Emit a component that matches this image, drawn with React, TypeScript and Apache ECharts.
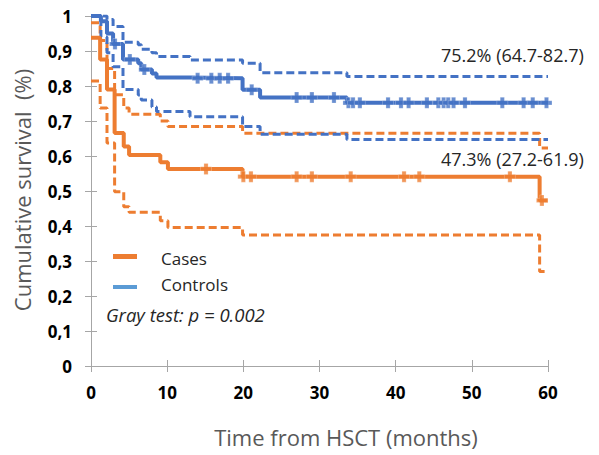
import React, { useEffect, useRef } from "react";
import * as echarts from "echarts";

// ---- Data ----
const xTicks = [0, 10, 20, 30, 40, 50, 60];
const yTickLabels = ["0", "0,1", "0,2", "0,3", "0,4", "0,5", "0,6", "0,7", "0,8", "0,9", "1"];

const casesTimes = [0, 1.2, 2.1, 3.1, 4.3, 5.0, 9.1, 10.1, 19.9, 58.9, 60];
const casesSurv = [0.938, 0.876, 0.79, 0.666, 0.627, 0.603, 0.582, 0.563, 0.541, 0.473, 0.473];
const casesUpper = [0.981, 0.93, 0.85, 0.775, 0.737, 0.719, 0.7, 0.684, 0.665, 0.623, 0.623];
const casesLower = [0.814, 0.737, 0.637, 0.498, 0.455, 0.439, 0.415, 0.396, 0.374, 0.27, 0.27];
const casesCensor = [15.1, 20.0, 21.0, 27.0, 29.0, 34.1, 41.1, 43.1, 55.0, 59.2];

const ctrlTimes = [0, 1.3, 2.1, 2.9, 4.2, 6.2, 6.6, 8.0, 8.6, 13.0, 19.9, 22.2, 33.6, 60];
const ctrlSurv = [1.0, 0.985, 0.95, 0.92, 0.876, 0.865, 0.847, 0.836, 0.824, 0.822, 0.789, 0.767, 0.752, 0.752];
const ctrlUpper = [1.0, 1.0, 0.99, 0.97, 0.925, 0.918, 0.905, 0.895, 0.884, 0.874, 0.865, 0.838, 0.827, 0.827];
const ctrlLower = [1.0, 0.94, 0.895, 0.855, 0.79, 0.774, 0.76, 0.74, 0.727, 0.712, 0.684, 0.662, 0.647, 0.647];
const ctrlCensor = [3.15, 5.1, 7.0, 14.0, 15.8, 16.9, 18.0, 21.1, 27.0, 29.0, 31.9, 33.8, 34.4, 35.3, 39.0, 40.7, 41.7, 44.1, 45.6, 46.3, 46.9, 47.6, 49.1, 54.0, 56.8, 58.0, 59.8];

const seriesNames = ["Cases", "Controls"];
const annotations = ["47.3% (27.2-61.9)", "75.2% (64.7-82.7)"];
const testLabel = "Gray test: p = 0.002";

const ORANGE = "#ED7D31";
const BLUE = "#4472C4";
const BLUE_LEGEND = "#5B9BD5";
const AXIS = "#A6A6A6";
const FONT = "'Open Sans', 'Noto Sans', sans-serif";
const PLUS = "path://M3.1,0h3.8v3.1h3.1v3.8h-3.1v3.1h-3.8v-3.1h-3.1v-3.8h3.1z";

const pairs = (t: number[], v: number[]) => t.map((x, i) => [x, v[i]]);
const stepAt = (t: number[], v: number[], x: number) => {
  let val = v[0];
  for (let i = 0; i < t.length; i++) if (t[i] <= x) val = v[i];
  return val;
};

export default function App() {
  const ref = useRef<HTMLDivElement>(null);
  useEffect(() => {
    if (!ref.current) return;
    const chart = echarts.init(ref.current, undefined, { renderer: "svg" });
    const solid = (name: string, t: number[], v: number[], color: string) => ({
      type: "line", name, step: "end", showSymbol: false, data: pairs(t, v),
      lineStyle: { color, width: 4 }, itemStyle: { color }, z: 3,
    });
    const dashed = (t: number[], v: number[], color: string) => ({
      type: "line", step: "end", showSymbol: false, data: pairs(t, v),
      lineStyle: { color, width: 3, type: [8, 4] }, z: 2,
    });
    const censor = (ct: number[], t: number[], v: number[], color: string) => ({
      type: "scatter", symbol: PLUS, symbolSize: 11,
      data: ct.map((x) => [x, stepAt(t, v, x)]),
      itemStyle: { color, borderColor: "rgba(255,255,255,0.6)", borderWidth: 0.5 }, z: 4,
    });
    const axisLineStyle = { color: AXIS, width: 1 };
    const option = {
      animation: false,
      grid: { left: 91, top: 16, right: 51, bottom: 89, containLabel: false },
      xAxis: [
        {
          type: "value", min: 0, max: 60, interval: 10,
          axisLine: { lineStyle: axisLineStyle },
          axisTick: { length: 6, lineStyle: axisLineStyle },
          axisLabel: { margin: 18, fontFamily: FONT, fontSize: 17, fontWeight: "bold", color: "#000",
            formatter: (v: number) => (xTicks.includes(v) ? String(v) : "") },
          splitLine: { show: false },
        },
        {
          type: "value", min: 0, max: 60, interval: 10, position: "bottom", offset: 0,
          axisLine: { show: false },
          axisTick: { inside: true, length: 6, lineStyle: axisLineStyle },
          axisLabel: { show: false }, splitLine: { show: false },
        },
      ],
      yAxis: [
        {
          type: "value", min: 0, max: 1, interval: 0.1,
          axisLine: { show: true, lineStyle: axisLineStyle },
          axisTick: { show: true, length: 6, lineStyle: axisLineStyle },
          axisLabel: { margin: 19, fontFamily: FONT, fontSize: 17, fontWeight: "bold", color: "#000",
            formatter: (v: number) => yTickLabels[Math.round(v * 10)] },
          splitLine: { show: false },
        },
        {
          type: "value", min: 0, max: 1, interval: 0.1, position: "left", offset: 0,
          axisLine: { show: false },
          axisTick: { show: true, inside: true, length: 6, lineStyle: axisLineStyle },
          axisLabel: { show: false }, splitLine: { show: false },
        },
      ],
      series: [
        dashed(casesTimes, casesUpper, ORANGE),
        dashed(casesTimes, casesLower, ORANGE),
        dashed(ctrlTimes, ctrlUpper, BLUE),
        dashed(ctrlTimes, ctrlLower, BLUE),
        solid(seriesNames[0], casesTimes, casesSurv, ORANGE),
        solid(seriesNames[1], ctrlTimes, ctrlSurv, BLUE),
        censor(casesCensor, casesTimes, casesSurv, ORANGE),
        censor(ctrlCensor, ctrlTimes, ctrlSurv, BLUE),
      ],
      graphic: [
        { type: "rect", shape: { x: 113, y: 254, width: 24, height: 5 }, style: { fill: ORANGE } },
        { type: "text", x: 161, y: 258, style: { text: seriesNames[0], font: `17px ${FONT}`, fill: "#262626", verticalAlign: "middle" } },
        { type: "rect", shape: { x: 113, y: 285, width: 24, height: 4 }, style: { fill: BLUE_LEGEND } },
        { type: "text", x: 161, y: 284, style: { text: seriesNames[1], font: `17px ${FONT}`, fill: "#262626", verticalAlign: "middle" } },
        { type: "text", x: 106, y: 314, style: { text: testLabel, font: `italic 18.5px ${FONT}`, fill: "#262626", verticalAlign: "middle" } },
        { type: "text", x: 441, y: 55, style: { text: annotations[1], font: `18px ${FONT}`, fill: "#262626", verticalAlign: "middle" } },
        { type: "text", x: 441, y: 159, style: { text: annotations[0], font: `18px ${FONT}`, fill: "#262626", verticalAlign: "middle" } },
        { type: "text", x: 346, y: 437, style: { text: "Time from HSCT (months)", font: `22px ${FONT}`, fill: "#595959", align: "center", verticalAlign: "middle" } },
        { type: "text", x: 22, y: 190, rotation: Math.PI / 2, style: { text: "Cumulative survival  (%)", font: `22px ${FONT}`, fill: "#595959", align: "center", verticalAlign: "middle" } },
      ],
    };
    chart.setOption(option as any);
    return () => chart.dispose();
  }, []);
  return <div ref={ref} style={{ width: 599, height: 455, position: "absolute", left: 0, top: 0 }} />;
}
